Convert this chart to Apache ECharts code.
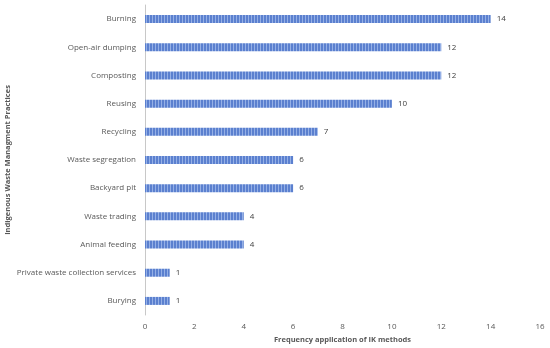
<!DOCTYPE html>
<html><head><meta charset="utf-8">
<script src="https://cdn.jsdelivr.net/npm/echarts@6/dist/echarts.min.js"></script>
<style>html,body{margin:0;padding:0;background:#fff}#c{width:550px;height:348px}</style>
</head><body><div id="c"></div>
<script>
const categories = ["Burning","Open-air dumping","Composting","Reusing","Recycling","Waste segregation","Backyard pit","Waste trading","Animal feeding","Private waste collection services","Burying"];
const values = [14,12,12,10,7,6,6,4,4,1,1];
const xTicks = [0,2,4,6,8,10,12,14,16];

const pc = document.createElement('canvas');
pc.width = 3; pc.height = 4;
const g = pc.getContext('2d');
g.fillStyle = '#5b80cf'; g.fillRect(0,0,3,4);
g.fillStyle = '#95b0e6'; g.fillRect(2,0,1,4);

const font = 'Open Sans';
const chart = echarts.init(document.getElementById('c'), null, {renderer:'canvas'});
chart.setOption({
  animation:false,
  grid:{left:145,right:10,top:5,bottom:33,containLabel:false,outerBoundsMode:'none'},
  xAxis:{type:'value',min:0,max:16,interval:2,
    name:'Frequency application of IK methods',nameLocation:'middle',nameGap:21,nameMoveOverlap:false,
    nameTextStyle:{fontFamily:font,fontSize:7.5,fontWeight:'bold',color:'#595959'},
    axisLine:{show:false},axisTick:{show:false},splitLine:{show:false},
    axisLabel:{fontFamily:font,fontSize:8,color:'#595959',margin:8,
      formatter:v=>xTicks.includes(v)?String(v):''}},
  yAxis:{type:'category',data:categories,inverse:true,
    name:'Indigenous Waste Managment Practices',nameLocation:'middle',nameGap:133,nameMoveOverlap:false,
    nameTextStyle:{fontFamily:font,fontSize:7.5,fontWeight:'bold',color:'#595959'},
    axisLine:{show:true,lineStyle:{color:'#c8c8c8',width:1}},axisTick:{show:false},
    axisLabel:{fontFamily:font,fontSize:8,color:'#595959',margin:9}},
  series:[{type:'bar',data:values,barWidth:8,
    itemStyle:{color:{image:pc,repeat:'repeat'}},
    label:{show:true,position:'right',distance:6,fontFamily:font,fontSize:8,color:'#404040'}}]
});
</script></body></html>
